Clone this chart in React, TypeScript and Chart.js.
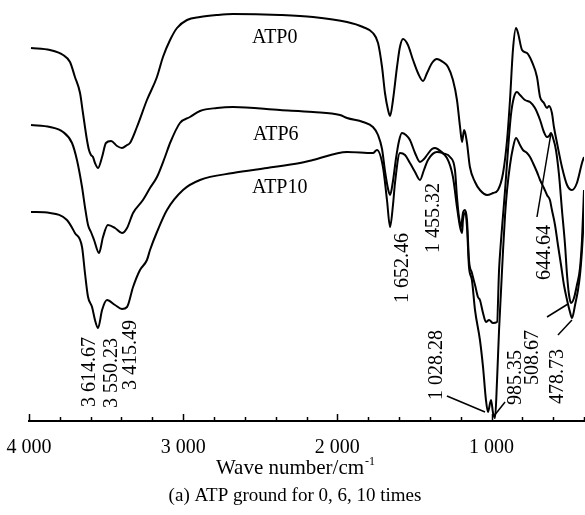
import React, { useEffect, useRef } from 'react';
import { Chart, registerables } from 'chart.js';

Chart.register(...registerables);

// ---- data (wavenumber in cm^-1, transmittance in arbitrary units) ----
const atp0Wn = [3987, 3864, 3779, 3734, 3702, 3669, 3650, 3624, 3611, 3598, 3585, 3572, 3552, 3526, 3501, 3468, 3429, 3397, 3364, 3345, 3300, 3235, 3170, 3131, 3085, 3040, 2975, 2891, 2781, 2677, 2372, 2158, 1937, 1834, 1769, 1736, 1710, 1691, 1671, 1658, 1639, 1613, 1594, 1574, 1542, 1509, 1477, 1444, 1418, 1386, 1354, 1315, 1282, 1250, 1224, 1204, 1191, 1178, 1172, 1159, 1140, 1107, 1075, 1029, 990, 958, 925, 899, 880, 861, 841, 828, 802, 770, 737, 705, 685, 660, 640, 627, 608, 595, 575, 543, 510, 478, 446, 413, 400];
const atp0T = [373, 371, 366, 359, 344, 328, 308, 281, 271, 266, 264, 258, 253, 264, 278, 280, 275, 273, 276, 278, 294, 321, 344, 364, 381, 393, 401, 404, 406, 407, 406, 404, 399, 394, 388, 378, 354, 328, 311, 305, 321, 354, 374, 382, 376, 361, 348, 340, 348, 358, 362, 359, 354, 341, 321, 294, 279, 291, 289, 278, 254, 239, 231, 226, 228, 231, 248, 281, 321, 371, 393, 388, 371, 368, 359, 344, 324, 318, 313, 315, 308, 294, 278, 254, 236, 231, 238, 258, 264];

const atp6Wn = [3987, 3864, 3779, 3721, 3689, 3656, 3637, 3617, 3598, 3578, 3546, 3520, 3488, 3442, 3397, 3364, 3325, 3261, 3215, 3170, 3118, 3085, 3021, 2956, 2891, 2781, 2677, 2372, 2158, 1983, 1937, 1834, 1769, 1736, 1710, 1691, 1671, 1658, 1639, 1620, 1600, 1581, 1555, 1529, 1496, 1464, 1438, 1418, 1386, 1366, 1315, 1269, 1237, 1224, 1211, 1198, 1185, 1172, 1159, 1146, 1127, 1107, 1088, 1075, 1055, 1036, 1016, 990, 964, 951, 938, 925, 912, 893, 874, 854, 835, 815, 783, 750, 718, 685, 660, 640, 627, 614, 601, 582, 562, 543, 523, 510, 497, 484, 465, 446, 426, 413, 400];
const atp6T = [296, 294, 289, 278, 261, 234, 214, 196, 189, 181, 168, 184, 196, 193, 188, 193, 208, 221, 233, 244, 264, 278, 298, 304, 310, 313, 314, 311, 309, 306, 303, 299, 294, 286, 272, 250, 232, 226, 240, 262, 280, 288, 286, 281, 268, 259, 262, 266, 272, 273, 268, 264, 251, 224, 204, 194, 208, 211, 201, 161, 148, 136, 124, 121, 108, 99, 101, 98, 99, 151, 181, 206, 231, 271, 306, 324, 329, 326, 321, 319, 313, 301, 289, 284, 285, 288, 283, 271, 246, 211, 176, 146, 126, 118, 123, 136, 153, 181, 231];

const atp10Wn = [3987, 3864, 3754, 3702, 3656, 3637, 3617, 3591, 3572, 3552, 3526, 3494, 3442, 3397, 3364, 3325, 3280, 3235, 3215, 3170, 3105, 3001, 2891, 2677, 2456, 2242, 2158, 1937, 1769, 1743, 1704, 1678, 1658, 1639, 1626, 1594, 1561, 1529, 1496, 1464, 1438, 1412, 1354, 1289, 1250, 1224, 1204, 1191, 1185, 1172, 1159, 1146, 1127, 1107, 1075, 1055, 1036, 1023, 1003, 990, 977, 964, 951, 938, 925, 912, 899, 880, 861, 841, 815, 796, 770, 750, 731, 705, 685, 660, 640, 621, 608, 588, 569, 549, 530, 510, 491, 478, 458, 439, 426, 413, 400];
const atp10T = [209, 208, 201, 188, 174, 148, 124, 114, 101, 93, 111, 121, 116, 112, 114, 134, 151, 161, 171, 189, 211, 231, 241, 248, 253, 258, 261, 269, 268, 271, 254, 221, 194, 216, 238, 268, 266, 258, 249, 241, 251, 261, 269, 263, 244, 214, 194, 188, 201, 208, 194, 154, 141, 111, 81, 54, 21, 9, 21, 8, 3, 41, 91, 131, 171, 206, 231, 256, 273, 283, 276, 271, 268, 264, 258, 249, 241, 233, 226, 221, 211, 196, 176, 156, 136, 121, 109, 103, 116, 131, 146, 171, 206];

const seriesNames = ['ATP0', 'ATP6', 'ATP10'];
const tickValues = [1000, 2000, 3000, 4000];

// ---- annotation layout (data coordinates) ----
const curveNotes = [
  { text: 'ATP0', wn: 2554, v: 378 },
  { text: 'ATP6', wn: 2547, v: 281 },
  { text: 'ATP10', wn: 2554, v: 228 },
];
const peakNotes = [
  { text: '3 614.67', wn: 3604, v: 14 },
  { text: '3 550.23', wn: 3465, v: 13 },
  { text: '3 415.49', wn: 3338, v: 31 },
  { text: '1 652.46', wn: 1577, v: 118 },
  { text: '1 455.32', wn: 1373, v: 168 },
  { text: '1 028.28', wn: 1354, v: 21 },
  { text: '985.35', wn: 841, v: 16 },
  { text: '508.67', wn: 731, v: 36 },
  { text: '478.73', wn: 569, v: 17 },
  { text: '644.64', wn: 653, v: 141 },
];
const leaders = [
  { x1: 1289, y1: 25, x2: 1042, y2: 9 },
  { x1: 912, y1: 19, x2: 984, y2: 5 },
  { x1: 640, y1: 104, x2: 504, y2: 117 },
  { x1: 569, y1: 86, x2: 478, y2: 101 },
  { x1: 705, y1: 204, x2: 614, y2: 288 },
];

const FONT = '"Liberation Serif", "Times New Roman", serif';

function fmt(v: number): string {
  if (v >= 1000) {
    return `${Math.floor(v / 1000)} ${String(v % 1000).padStart(3, '0')}`;
  }
  return String(v);
}

const overlay = {
  id: 'overlay',
  afterDatasetsDraw(chart: any) {
    const { ctx, scales } = chart;
    const xs = scales.x;
    const ys = scales.y;
    const X = (v: number) => xs.getPixelForValue(v);
    const Y = (v: number) => ys.getPixelForValue(v);
    ctx.save();
    ctx.strokeStyle = '#000';
    ctx.fillStyle = '#000';

    // inner tick marks
    ctx.lineWidth = 1.5;
    const yb = Y(0);
    for (let v = 400; v <= 4000; v += 200) {
      const px = Math.round(X(v)) + 0.5;
      const len = tickValues.includes(v) ? 7 : 4;
      ctx.beginPath();
      ctx.moveTo(px, yb);
      ctx.lineTo(px, yb - len);
      ctx.stroke();
    }

    // leader lines
    ctx.lineWidth = 1.5;
    leaders.forEach((l) => {
      ctx.beginPath();
      ctx.moveTo(X(l.x1), Y(l.y1));
      ctx.lineTo(X(l.x2), Y(l.y2));
      ctx.stroke();
    });

    // curve names
    ctx.font = `20px ${FONT}`;
    ctx.textAlign = 'left';
    ctx.textBaseline = 'alphabetic';
    curveNotes.forEach((n) => ctx.fillText(n.text, X(n.wn), Y(n.v)));

    // peak labels, rotated
    peakNotes.forEach((n) => {
      ctx.save();
      ctx.translate(X(n.wn), Y(n.v));
      ctx.rotate(-Math.PI / 2);
      ctx.textAlign = 'left';
      ctx.textBaseline = 'middle';
      ctx.fillText(n.text, 0, 0);
      ctx.restore();
    });

    // axis title with superscript
    const cx = 295;
    const main = 'Wave number/cm';
    const sup = '-1';
    ctx.font = `21px ${FONT}`;
    const wMain = ctx.measureText(main).width;
    ctx.font = `12px ${FONT}`;
    const wSup = ctx.measureText(sup).width;
    const start = cx - (wMain + wSup) / 2;
    ctx.textAlign = 'left';
    ctx.textBaseline = 'alphabetic';
    ctx.font = `21px ${FONT}`;
    ctx.fillText(main, start, 474);
    ctx.font = `12px ${FONT}`;
    ctx.fillText(sup, start + wMain + 1, 465);

    // caption
    ctx.font = `19px ${FONT}`;
    ctx.textAlign = 'center';
    ctx.fillText('(a) ATP ground for 0, 6, 10 times', cx, 501);
    ctx.restore();
  },
};

function toPoints(wn: number[], t: number[]) {
  return wn.map((w, i) => ({ x: w, y: t[i] }));
}

export default function App() {
  const ref = useRef<HTMLCanvasElement | null>(null);
  useEffect(() => {
    if (!ref.current) return;
    const series = [
      toPoints(atp0Wn, atp0T),
      toPoints(atp6Wn, atp6T),
      toPoints(atp10Wn, atp10T),
    ];
    const chart = new Chart(ref.current, {
      type: 'line',
      data: {
        datasets: series.map((d, i) => ({
          label: seriesNames[i],
          data: d,
          borderColor: '#000',
          borderWidth: 2,
          pointRadius: 0,
          fill: false,
          cubicInterpolationMode: 'monotone' as const,
        })),
      },
      options: {
        animation: false,
        responsive: false,
        devicePixelRatio: 1,
        layout: { padding: { left: 29, right: 1, top: 0, bottom: 0 } },
        plugins: { legend: { display: false }, tooltip: { enabled: false }, title: { display: false } },
        scales: {
          x: {
            type: 'linear',
            min: 400,
            max: 4000,
            reverse: true,
            position: 'bottom',
            grid: { display: false },
            border: { display: true, color: '#000', width: 2 },
            afterFit: (s: any) => {
              s.height = 94;
              s.paddingLeft = 0;
              s.paddingRight = 0;
            },
            ticks: {
              stepSize: 200,
              autoSkip: false,
              maxRotation: 0,
              padding: 7,
              color: '#000',
              font: { family: FONT, size: 20 },
              callback: (v: any) => (tickValues.includes(Number(v)) ? fmt(Number(v)) : ''),
            },
          },
          y: { display: false, min: 0, max: 421 },
        },
      },
      plugins: [overlay],
    } as any);
    return () => chart.destroy();
  }, []);
  return (
    <div style={{ position: 'fixed', left: 0, top: 0, width: 585, height: 515, background: '#fff' }}>
      <canvas ref={ref} width={585} height={515} />
    </div>
  );
}
